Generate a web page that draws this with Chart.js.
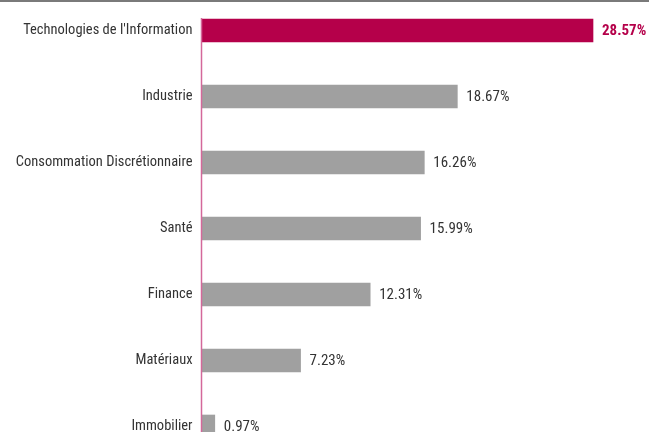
<!DOCTYPE html>
<html>
<head>
<meta charset="utf-8">
<script src="https://cdn.jsdelivr.net/npm/chart.js@4/dist/chart.umd.min.js"></script>
<style>
  html, body { margin:0; padding:0; background:#fff; overflow:hidden; }
  .wrap { position:relative; width:649px; height:432px; overflow:hidden; border-top:2px solid #7a7a7a; box-sizing:border-box; }
  canvas { display:block; }
</style>
</head>
<body>
<div class="wrap"><canvas id="secteurs" width="649" height="470"></canvas></div>
<script>
// Répartition sectorielle (en % du portefeuille)
const secteurs = [
  "Technologies de l'Information",
  'Industrie',
  'Consommation Discrétionnaire',
  'Santé',
  'Finance',
  'Matériaux',
  'Immobilier'
];
const poids = [28.57, 18.67, 16.26, 15.99, 12.31, 7.23, 0.97];
const axeMax = 32;

const CRIMSON = '#b5004a';
const GRIS = '#a0a0a0';
const FONT = "'Roboto Condensed', 'Liberation Sans Narrow', 'DejaVu Sans Condensed', sans-serif";

// first sector is highlighted
const couleurs = poids.map((v, i) => i === 0 ? CRIMSON : GRIS);

// writes the percentage just right of each bar
const valeursPlugin = {
  id: 'valeurs',
  afterDatasetsDraw(chart) {
    const ctx = chart.ctx;
    const meta = chart.getDatasetMeta(0);
    ctx.save();
    ctx.textBaseline = 'middle';
    ctx.textAlign = 'left';
    meta.data.forEach((bar, i) => {
      const top = i === 0;
      ctx.font = (top ? 'bold ' : '') + '15px ' + FONT;
      ctx.fillStyle = top ? CRIMSON : '#333';
      ctx.fillText(poids[i].toFixed(2) + '%', bar.x + 9, bar.y + 1);
    });
    ctx.restore();
  }
};

// pink baseline, starting at the top of the first bar
const axePlugin = {
  id: 'axe',
  afterDatasetsDraw(chart) {
    const ctx = chart.ctx;
    const first = chart.getDatasetMeta(0).data[0];
    const x = chart.scales.x.getPixelForValue(0);
    ctx.save();
    ctx.strokeStyle = '#d4689a';
    ctx.lineWidth = 1.5;
    ctx.beginPath();
    ctx.moveTo(x, first.y - first.height / 2 - 1);
    ctx.lineTo(x, chart.height);
    ctx.stroke();
    ctx.restore();
  }
};

new Chart(document.getElementById('secteurs'), {
  type: 'bar',
  data: {
    labels: secteurs,
    datasets: [{
      data: poids,
      backgroundColor: couleurs,
      barThickness: 23,
      borderSkipped: false,
      clip: false
    }]
  },
  options: {
    indexAxis: 'y',
    responsive: false,
    animation: false,
    layout: { padding: { top: 28.5, bottom: 45.5, left: 0, right: 9 } },
    plugins: { legend: { display: false }, tooltip: { enabled: false } },
    scales: {
      x: {
        min: 0, max: axeMax,
        display: false
      },
      y: {
        offset: false,
        grid: { display: false, drawTicks: false },
        border: { display: false },
        ticks: { color: '#333', padding: 9, font: { family: FONT, size: 14.5 } },
        afterFit(scale) { scale.width = 201.5; }
      }
    }
  },
  plugins: [valeursPlugin, axePlugin]
});
</script>
</body>
</html>
